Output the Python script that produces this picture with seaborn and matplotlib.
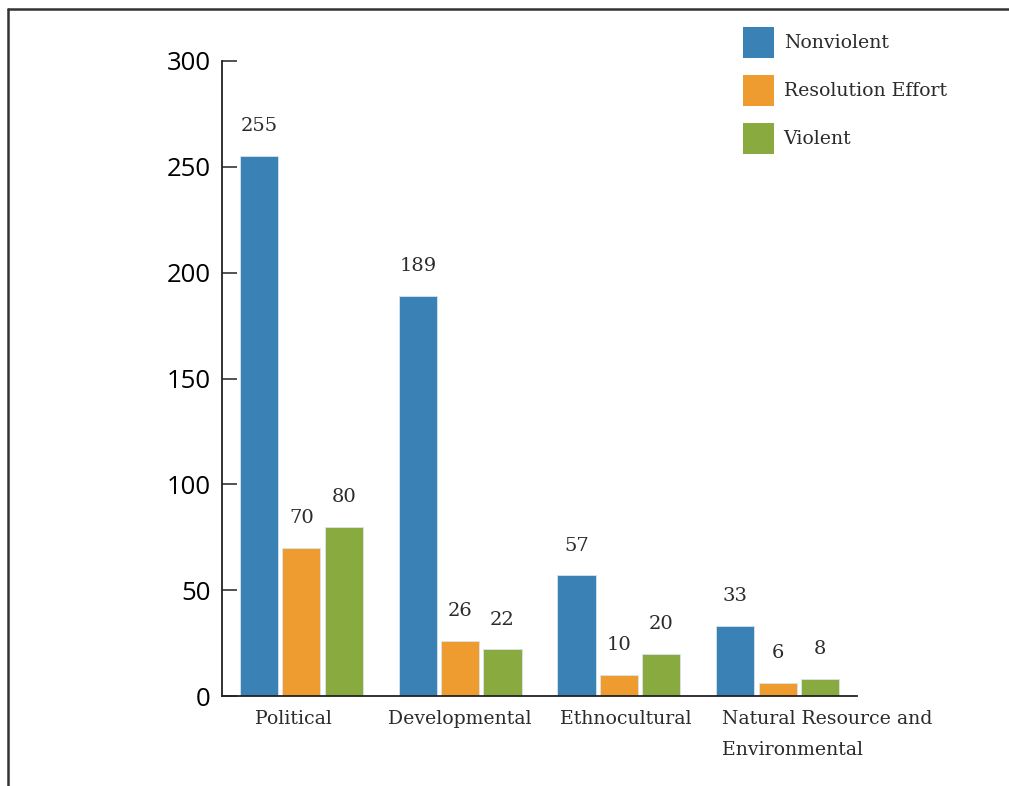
import matplotlib
matplotlib.use("Agg")
import matplotlib.pyplot as plt
import matplotlib.transforms as mtransforms
from matplotlib.lines import Line2D
from matplotlib.patches import Patch
import seaborn as sns
import pandas as pd

categories = ["Political", "Developmental", "Ethnocultural", "Natural Resource and\nEnvironmental"]
series = ["Nonviolent", "Resolution Effort", "Violent"]
nonviolent = [255, 189, 57, 33]
resolution = [70, 26, 10, 6]
violent = [80, 22, 20, 8]
colors = ["#3A81B6", "#EE9B30", "#89AA3F"]
yticks = [0, 50, 100, 150, 200, 250, 300]

rows = []
for s, vals in zip(series, [nonviolent, resolution, violent]):
    for c, v in zip(categories, vals):
        rows.append({"category": c, "series": s, "value": v})
df = pd.DataFrame(rows)

sns.set_style("white")
serif = ["DejaVu Serif"]
plt.rcParams["font.family"] = ["DejaVu Sans"]

fig = plt.figure(figsize=(10.09, 7.86), dpi=100)
ax = fig.add_axes([222/1009, 1-696/786, (857-222)/1009, (696-61)/786])

sns.barplot(data=df, x="category", y="value", hue="series", order=categories,
            hue_order=series, palette=colors, width=0.8, gap=0.1, ax=ax,
            edgecolor="#d8e4ee", linewidth=0.6, legend=False, saturation=1)

for cont in ax.containers:
    ax.bar_label(cont, labels=[f"{int(b.get_height())}" for b in cont], padding=15,
                 fontsize=14, family=serif, color="#2b2b2b")

ax.set_ylim(0, 300)
ax.set_xlim(-0.5, 3.5)
ax.set_yticks(yticks)
ax.set_yticklabels([str(t) for t in yticks], family=["Open Sans"], fontsize=18.5, color="#000000")
ax.set_xlabel("")
ax.set_ylabel("")

for sp in ["top", "right"]:
    ax.spines[sp].set_visible(False)
for sp in ["left", "bottom"]:
    ax.spines[sp].set_color("#222222")
    ax.spines[sp].set_linewidth(1.3)

ax.tick_params(axis="y", direction="in", length=11, width=1.1, color="#222222", pad=8, left=True)
ax.set_xticks(range(len(categories)))
ax.set_xticklabels(categories, family=serif, fontsize=13.6, color="#2b2b2b")
ax.tick_params(axis="x", length=0, pad=10)
lbls = ax.get_xticklabels()
last = lbls[-1]
last.set_ha("left")
last.set_multialignment("left")
last.set_linespacing(1.95)
last.set_transform(last.get_transform() + mtransforms.ScaledTranslation(-0.56, 0, fig.dpi_scale_trans))
lbls[0].set_transform(lbls[0].get_transform() + mtransforms.ScaledTranslation(-0.08, 0, fig.dpi_scale_trans))
lbls[2].set_transform(lbls[2].get_transform() + mtransforms.ScaledTranslation(0.07, 0, fig.dpi_scale_trans))

sep = [0.5, 1.5, 2.5, 3.5]
ax.set_xticks(sep, minor=True)
ax.tick_params(axis="x", which="minor", direction="in", length=11, width=1.1, color="#222222")

handles = [Patch(facecolor=c, edgecolor="none") for c in colors]
leg = fig.legend(handles, series, loc="upper left", bbox_to_anchor=(726/1009, 1-10/786),
                 frameon=False, prop={"family": serif, "size": 13.6}, handlelength=1.65,
                 handleheight=2.15, handletextpad=0.5, labelspacing=0.9, labelcolor="#2b2b2b")

fig.add_artist(Line2D([7.5/1009, 1.0], [1-9/786, 1-9/786], transform=fig.transFigure, color="#333333", lw=1.8))
fig.add_artist(Line2D([7.5/1009, 7.5/1009], [0, 1-9/786], transform=fig.transFigure, color="#333333", lw=1.8))

fig.savefig("out.png", dpi=100)
